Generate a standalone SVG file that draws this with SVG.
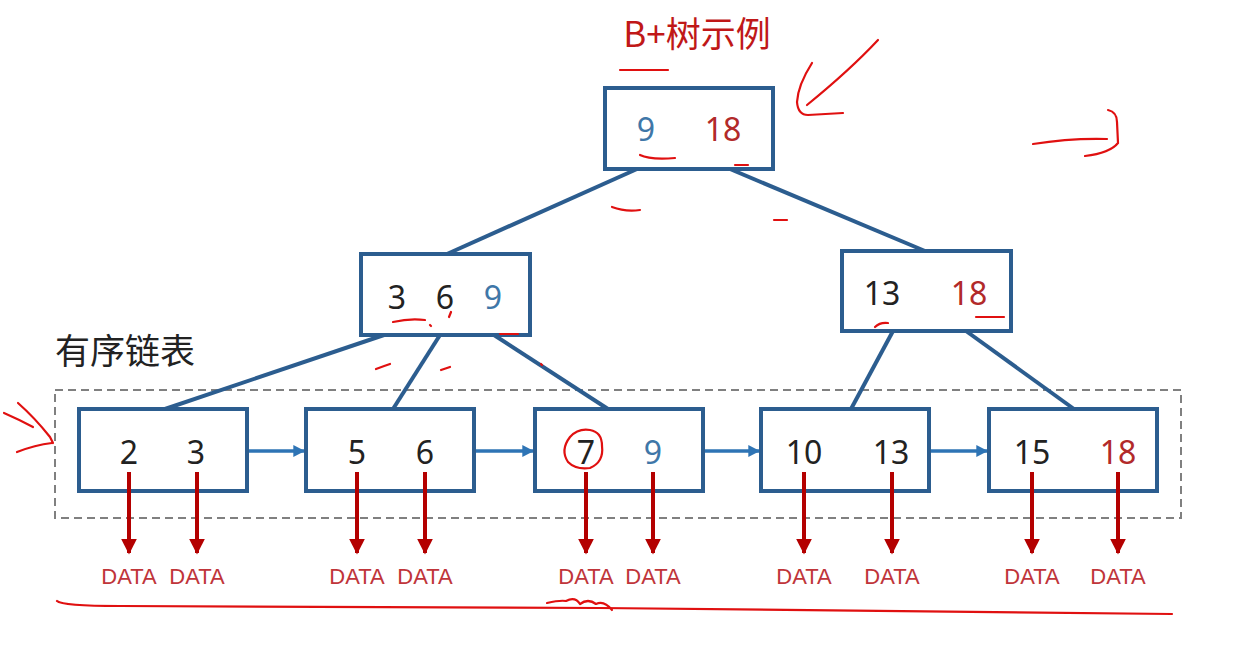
<svg xmlns="http://www.w3.org/2000/svg" width="1235" height="646" viewBox="0 0 1235 646">
<defs>
<style>
.box{fill:#fff;stroke:#2c5d8f;stroke-width:4}
.edge{stroke:#2c5d8f;stroke-width:4;fill:none}
.link{stroke:#2e74b5;stroke-width:3.5;fill:none}
.ptr{stroke:#b40000;stroke-width:4;fill:none}
.num{font-family:"Noto Sans","Noto Sans CJK SC",sans-serif;font-size:32px;text-anchor:middle;fill:#222}
.blue{fill:#3f77a8}
.red{fill:#b22a2a}
.data{font-family:"Liberation Sans","Noto Sans CJK SC",sans-serif;font-size:22px;text-anchor:middle;fill:#c0353a}
.hand{stroke:#e01010;stroke-width:2.2;fill:none;stroke-linecap:round;stroke-linejoin:round}
</style>
<marker id="ab" viewBox="0 0 10 10" refX="9" refY="5" markerWidth="3.4" markerHeight="3.4" orient="auto"><path d="M0,0 L10,5 L0,10 z" fill="#2e74b5"/></marker>
<marker id="ar" viewBox="0 0 10 10" refX="9" refY="5" markerWidth="4" markerHeight="4" orient="auto"><path d="M0,0 L10,5 L0,10 z" fill="#b40000"/></marker>
</defs>
<rect width="1235" height="646" fill="#fff"/>
<text x="697" y="47" font-family="Noto Sans CJK SC,sans-serif" font-size="35" fill="#c01818" text-anchor="middle">B+树示例</text>
<text x="55" y="364" font-family="Noto Sans CJK SC,sans-serif" font-size="35" fill="#222">有序链表</text>
<rect x="55" y="390" width="1126" height="128" fill="none" stroke="#808080" stroke-width="2" stroke-dasharray="8,5"/>
<g id="connectors">
<line class="edge" x1="637" y1="169" x2="447" y2="254"/>
<line class="edge" x1="730" y1="169" x2="925" y2="251"/>
<line class="edge" x1="384" y1="335" x2="165" y2="409"/>
<line class="edge" x1="440" y1="335" x2="393" y2="409"/>
<line class="edge" x1="494" y1="335" x2="608" y2="409"/>
<line class="edge" x1="893" y1="331" x2="851" y2="409"/>
<line class="edge" x1="966" y1="331" x2="1074" y2="409"/>
<line class="link" x1="247" y1="451" x2="304" y2="451" marker-end="url(#ab)"/>
<line class="link" x1="474" y1="451" x2="533" y2="451" marker-end="url(#ab)"/>
<line class="link" x1="703" y1="451" x2="759" y2="451" marker-end="url(#ab)"/>
<line class="link" x1="929" y1="451" x2="987" y2="451" marker-end="url(#ab)"/>
</g>
<g id="root"><rect class="box" x="605" y="88" width="168" height="81"/><text class="num blue" x="646" y="141">9</text><text class="num red" x="723" y="141">18</text></g>
<g id="midL"><rect class="box" x="361" y="254" width="169" height="81"/><text class="num" x="397" y="309">3</text><text class="num" x="445" y="309">6</text><text class="num blue" x="493" y="309">9</text></g>
<g id="midR"><rect class="box" x="842" y="251" width="169" height="80"/><text class="num" x="882" y="305">13</text><text class="num red" x="969" y="305">18</text></g>
<g id="leaf1"><rect class="box" x="79" y="409" width="168" height="82"/><text class="num" x="129" y="464">2</text><text class="num" x="196" y="464">3</text></g>
<g id="leaf2"><rect class="box" x="306" y="409" width="168" height="82"/><text class="num" x="357" y="464">5</text><text class="num" x="425" y="464">6</text></g>
<g id="leaf3"><rect class="box" x="535" y="409" width="168" height="82"/><text class="num" x="586" y="464">7</text><text class="num blue" x="653" y="464">9</text></g>
<g id="leaf4"><rect class="box" x="761" y="409" width="168" height="82"/><text class="num" x="804" y="464">10</text><text class="num" x="891" y="464">13</text></g>
<g id="leaf5"><rect class="box" x="989" y="409" width="168" height="82"/><text class="num" x="1032" y="464">15</text><text class="num red" x="1118" y="464">18</text></g>
<g id="dataPointers">
<line class="ptr" x1="129" y1="472" x2="129" y2="553" marker-end="url(#ar)"/>
<line class="ptr" x1="197" y1="472" x2="197" y2="553" marker-end="url(#ar)"/>
<line class="ptr" x1="357" y1="472" x2="357" y2="553" marker-end="url(#ar)"/>
<line class="ptr" x1="425" y1="472" x2="425" y2="553" marker-end="url(#ar)"/>
<line class="ptr" x1="586" y1="472" x2="586" y2="553" marker-end="url(#ar)"/>
<line class="ptr" x1="653" y1="472" x2="653" y2="553" marker-end="url(#ar)"/>
<line class="ptr" x1="804" y1="472" x2="804" y2="553" marker-end="url(#ar)"/>
<line class="ptr" x1="892" y1="472" x2="892" y2="553" marker-end="url(#ar)"/>
<line class="ptr" x1="1032" y1="472" x2="1032" y2="553" marker-end="url(#ar)"/>
<line class="ptr" x1="1118" y1="472" x2="1118" y2="553" marker-end="url(#ar)"/>
<text class="data" x="129" y="584">DATA</text><text class="data" x="197" y="584">DATA</text>
<text class="data" x="357" y="584">DATA</text><text class="data" x="425" y="584">DATA</text>
<text class="data" x="586" y="584">DATA</text><text class="data" x="653" y="584">DATA</text>
<text class="data" x="804" y="584">DATA</text><text class="data" x="892" y="584">DATA</text>
<text class="data" x="1032" y="584">DATA</text><text class="data" x="1118" y="584">DATA</text>
</g>
<g id="annotations">
<path class="hand" d="M620,70 L668,70"/>
<path class="hand" d="M878,40 Q850,70 807,105"/>
<path class="hand" d="M812,63 Q798,85 797,102 Q798,115 808,115 L843,113"/>
<path class="hand" d="M640,155 Q650,160 675,158"/>
<path class="hand" d="M735,165 L748,165"/>
<path class="hand" d="M612,207 Q625,212 640,210"/>
<path class="hand" d="M774,220 L787,220"/>
<path class="hand" d="M1033,144 Q1070,138 1107,139"/>
<path class="hand" d="M1108,110 Q1117,112 1117,122 L1118,143 Q1110,153 1085,156"/>
<path class="hand" d="M393,322 Q410,318 425,320"/>
<path class="hand" d="M430,325 L431,326"/>
<path class="hand" d="M451,312 L449,317"/>
<path class="hand" d="M500,334 L518,334"/>
<path class="hand" d="M376,369 Q384,366 390,364"/>
<path class="hand" d="M441,370 L450,367"/>
<path class="hand" d="M541,364 L542,365"/>
<path class="hand" d="M875,327 Q880,322 888,323"/>
<path class="hand" d="M976,317 L1004,317"/>
<path class="hand" d="M18,403 Q35,418 50,437 L53,443"/>
<path class="hand" d="M4,413 Q20,420 33,427"/>
<path class="hand" d="M17,452 Q35,445 52,443"/>
<path class="hand" d="M570,437 Q578,428 590,430 Q602,432 602,446 Q604,462 590,468 Q576,470 568,462 Q560,450 570,437"/>
<path class="hand" d="M57,601 Q62,606 120,606 L600,608 L1172,614"/>
<path class="hand" d="M547,603 Q560,600 566,601 Q575,596 580,604 Q588,598 596,604 Q604,600 612,610"/>
</g>
</svg>
